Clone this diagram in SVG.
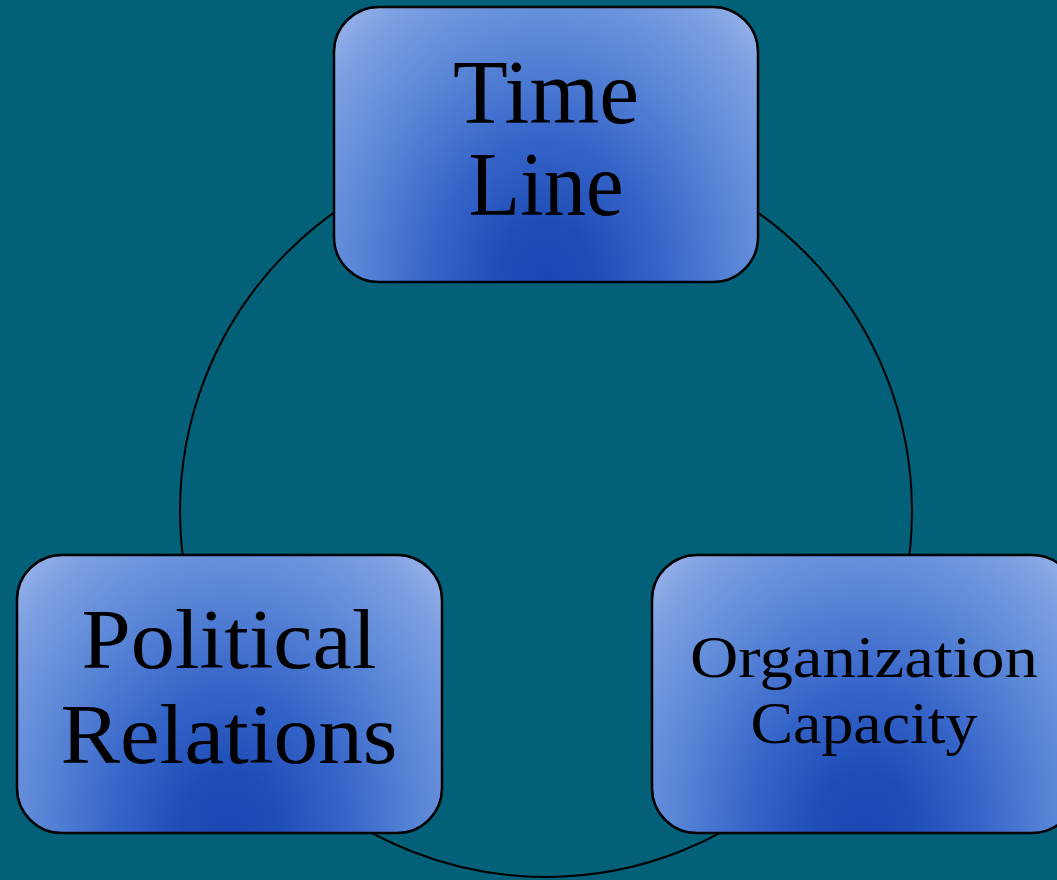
<svg xmlns="http://www.w3.org/2000/svg" width="1057" height="880" viewBox="0 0 1057 880">
<style>
.box{fill:url(#g);stroke:#000;stroke-width:2.5}
.t{font-family:"Liberation Serif",serif;fill:#000;text-anchor:middle}
.con{fill:none;stroke:#000;stroke-width:2}
</style>
<defs>
<radialGradient id="g" cx="0.5" cy="1" r="1" fx="0.5" fy="1" gradientTransform="translate(0.5 1) scale(0.75 1.45) translate(-0.5 -1)">
<stop offset="0" stop-color="#1a46b3"/>
<stop offset="0.15" stop-color="#1f4db7"/>
<stop offset="0.35" stop-color="#3463c8"/>
<stop offset="0.6" stop-color="#5a86d7"/>
<stop offset="0.82" stop-color="#7c9fe1"/>
<stop offset="1" stop-color="#a8bfee"/>
</radialGradient>
</defs>
<rect width="1057" height="880" fill="#026079"/>
<g id="connectors">
<circle class="con" cx="546" cy="511" r="366"/>
</g>
<g id="node-timeline">
<rect class="box" x="334" y="7" width="424" height="275" rx="45"/>
<text class="t" x="546" y="123" font-size="90" textLength="186" lengthAdjust="spacingAndGlyphs">Time</text>
<text class="t" x="546" y="215" font-size="90" textLength="155" lengthAdjust="spacingAndGlyphs">Line</text>
</g>
<g id="node-political">
<rect class="box" x="17" y="555" width="425" height="278" rx="45"/>
<text class="t" x="229" y="668" font-size="85" textLength="295" lengthAdjust="spacingAndGlyphs">Political</text>
<text class="t" x="229" y="763" font-size="85" textLength="337" lengthAdjust="spacingAndGlyphs">Relations</text>
</g>
<g id="node-organization">
<rect class="box" x="652" y="555" width="425" height="278" rx="45"/>
<text class="t" x="864" y="677" font-size="60" textLength="348" lengthAdjust="spacingAndGlyphs">Organization</text>
<text class="t" x="864" y="743" font-size="60" textLength="227" lengthAdjust="spacingAndGlyphs">Capacity</text>
</g>
</svg>
